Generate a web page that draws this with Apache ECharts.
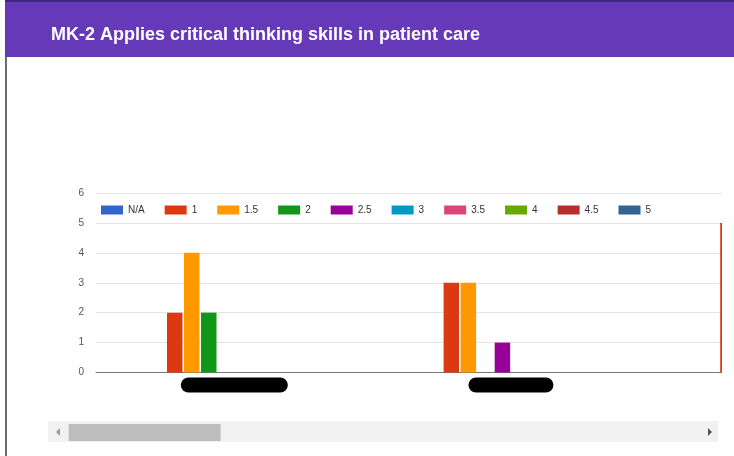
<!DOCTYPE html>
<html>
<head>
<meta charset="utf-8">
<script src="https://cdn.jsdelivr.net/npm/echarts@6/dist/echarts.min.js"></script>
<style>
    html, body { margin: 0; padding: 0; background: #fff; }
    #chart { width: 734px; height: 456px; }
</style>
</head>
<body>
<div id="chart"></div>
<script>
// categories (names are redacted in the original, shown as black blobs)
const groups = ["Clinical Evaluator", "Site Preceptor", "Faculty Advisor"];
const seriesNames = ["N/A", "1", "1.5", "2", "2.5", "3", "3.5", "4", "4.5", "5"];
const seriesColors = ["#3366cc", "#dc3912", "#ff9900", "#109618", "#990099",
                      "#0099c6", "#dd4477", "#66aa00", "#b82e2e", "#316395"];
// counts per score, one entry per group (third group is mostly scrolled out of view)
const valNA  = [0, 0, null];
const val1   = [2, 3, 5];
const val15  = [4, 3, null];
const val2   = [2, 0, null];
const val25  = [0, 1, null];
const val3   = [0, 0, null];
const val35  = [0, 0, null];
const val4   = [0, 0, null];
const val45  = [0, 0, null];
const val5   = [0, 0, null];
const yTicks = [0, 1, 2, 3, 4, 5, 6];

const allValues = [valNA, val1, val15, val2, val25, val3, val35, val4, val45, val5];

let myChart = echarts.init(document.getElementById("chart"));

let series = seriesNames.map(function (name, s) {
    return {
        name: name,
        type: "bar",
        clip: true,
        barGap: "10%",
        barCategoryGap: "39%",
        itemStyle: { color: seriesColors[s] },
        data: allValues[s].map(function (v, i) { return [i, v]; })
    };
});

let option = {
    backgroundColor: "#fff",
    textStyle: { fontFamily: "Liberation Sans, Arial, sans-serif" },
    title: {
        text: "MK-2 Applies critical thinking skills in patient care",
        left: 46,
        top: 21,
        textStyle: { color: "#fff", fontSize: 18, fontWeight: "bold" }
    },
    legend: {
        data: seriesNames,
        left: 96,
        top: 200,
        icon: "rect",
        itemWidth: 22,
        itemHeight: 9,
        itemGap: 20,
        textStyle: { color: "#333", fontSize: 10 }
    },
    graphic: [
        // header band
        { type: "rect", z: -1, shape: { x: 5, y: 0, width: 729, height: 57 }, style: { fill: "#6539b8" } },
        { type: "rect", z: -1, shape: { x: 5, y: 0, width: 729, height: 2 }, style: { fill: "#3e2680" } },
        // card border
        { type: "rect", z: -1, shape: { x: 5, y: 57, width: 2, height: 399 }, style: { fill: "#6b6b6b" } },
        // scroll viewport edge (hides bar overflow past the plot)
        { type: "rect", z: 20, shape: { x: 722, y: 180, width: 12, height: 200 }, style: { fill: "#fff" } },
        // scrollbar track and arrows
        { type: "rect", z: -1, shape: { x: 48, y: 421, width: 670, height: 21 }, style: { fill: "#f1f1f1" } },
        { type: "polygon", z: -1, shape: { points: [[60, 428], [60, 436], [56, 432]] }, style: { fill: "#999" } },
        { type: "polygon", z: -1, shape: { points: [[708, 428], [708, 436], [712, 432]] }, style: { fill: "#555" } }
    ],
    grid: { left: 96, right: 12, top: 193, bottom: 83.5 },
    xAxis: {
        type: "value",
        min: -0.5,
        max: 8.5,
        axisLine: { show: true, onZero: false, lineStyle: { color: "#777" } },
        axisTick: { show: false },
        splitLine: { show: false },
        axisLabel: {
            customValues: [0, 1, 2],
            margin: 5,
            formatter: function (v) {
                let name = groups[Math.round(v)] || "";
                return (Math.round(v) === 0 ? "{a|" : "{b|") + name + "}";
            },
            rich: {
                a: { width: 91, height: 11, padding: [2, 8], fontSize: 11, color: "#000", backgroundColor: "#000", borderRadius: 8 },
                b: { width: 69, height: 11, padding: [2, 8], fontSize: 11, color: "#000", backgroundColor: "#000", borderRadius: 8 }
            }
        }
    },
    yAxis: {
        type: "value",
        min: yTicks[0],
        max: yTicks[yTicks.length - 1],
        interval: 1,
        axisLine: { show: false },
        axisTick: { show: false },
        axisLabel: { color: "#555", fontSize: 10, margin: 12 },
        splitLine: { lineStyle: { color: "#e4e4e4" } }
    },
    dataZoom: [{
        type: "slider",
        xAxisIndex: 0,
        filterMode: "none",
        startValue: -0.5,
        endValue: 1.763,
        zoomLock: true,
        left: 68,
        right: 62,
        top: 424,
        height: 17,
        backgroundColor: "transparent",
        borderColor: "transparent",
        fillerColor: "#bdbdbd",
        showDetail: false,
        showDataShadow: false,
        brushSelect: false,
        handleSize: 0,
        handleStyle: { opacity: 0 },
        moveHandleSize: 0,
        dataBackground: { lineStyle: { opacity: 0 }, areaStyle: { opacity: 0 } },
        selectedDataBackground: { lineStyle: { opacity: 0 }, areaStyle: { opacity: 0 } }
    }],
    series: series
};

myChart.setOption(option);
</script>
</body>
</html>
